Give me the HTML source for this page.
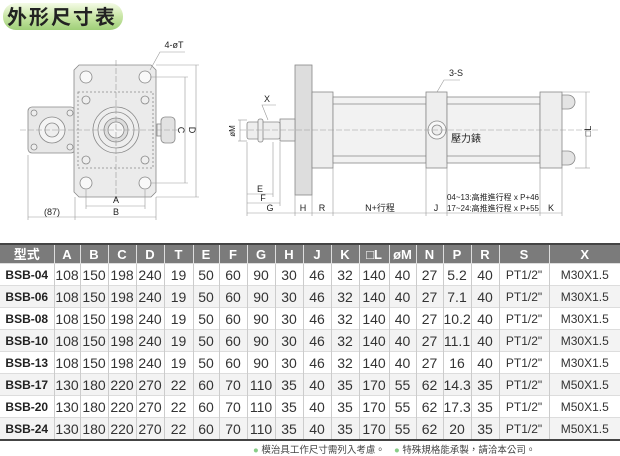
<!DOCTYPE html>
<html><head><meta charset="utf-8"><style>
body{margin:0;width:620px;height:453px;background:#fff;position:relative;overflow:hidden;font-family:"Liberation Sans","Noto Sans CJK TC",sans-serif;}
svg{position:absolute;left:0;top:0}
table{position:absolute;left:0;top:243px;border-collapse:collapse;table-layout:fixed;width:620px;border-top:2px solid #444;border-bottom:2px solid #444}
td,th{padding:0;text-align:center;white-space:nowrap;overflow:hidden;line-height:1}
th{background:#7b7b7b;color:#fff;font-size:13px;font-weight:bold;height:18px;border-left:1px solid #ddd}
td{height:21px;font-size:14px;color:#333;border-left:1px solid #ccc;border-top:1px solid #ddd}
td:first-child,th:first-child{border-left:none}
td:first-child{font-weight:bold;font-size:12px;color:#222}
tr.g td{background:#f3f3f3}
.s{font-size:12px}
.note{position:absolute;top:442px;font-size:9.5px;color:#444;white-space:nowrap}
.note b{color:#8c8;font-weight:normal}
</style></head><body>
<svg width="620" height="243" viewBox="0 0 620 243" font-family="Liberation Sans, Noto Sans CJK TC, sans-serif">
<defs><linearGradient id="gr" x1="0" y1="0" x2="0" y2="1"><stop offset="0" stop-color="#f4fbe6"/><stop offset="0.5" stop-color="#c9e6a6"/><stop offset="1" stop-color="#9fcf78"/></linearGradient></defs>
<rect x="3" y="3" width="120" height="27" rx="13" fill="url(#gr)"/>
<text x="62" y="24" text-anchor="middle" font-size="20" font-weight="bold" fill="#222" letter-spacing="2">外形尺寸表</text>
<g stroke="#888" stroke-width="0.8" fill="#eee">
<rect x="28" y="107" width="47" height="46" rx="4" fill="#e8e8e8"/>
<circle cx="52" cy="130" r="13" fill="#f4f4f4"/><circle cx="52" cy="130" r="7"/>
<circle cx="34" cy="113" r="3"/><circle cx="70" cy="113" r="3"/><circle cx="34" cy="147" r="3"/><circle cx="70" cy="147" r="3"/>
<path d="M79 65 H151 L156 70 V192 L151 197 H79 L74 192 V70 Z" fill="#ebebeb"/>
<rect x="78" y="92" width="75" height="76" fill="none" stroke-dasharray="2,2"/>
<circle cx="86" cy="77" r="6" fill="#f8f8f8"/><circle cx="145" cy="77" r="6" fill="#f8f8f8"/>
<circle cx="86" cy="183" r="6" fill="#f8f8f8"/><circle cx="145" cy="183" r="6" fill="#f8f8f8"/>
<circle cx="86" cy="100" r="4"/><circle cx="145" cy="100" r="4"/><circle cx="86" cy="160" r="4"/><circle cx="145" cy="160" r="4"/>
<circle cx="116" cy="130" r="23"/><circle cx="116" cy="130" r="18"/><circle cx="116" cy="130" r="12" fill="#ddd"/><circle cx="116" cy="130" r="8" fill="#f4f4f4"/>
<rect x="157" y="124" width="5" height="12"/><rect x="161" y="117" width="14" height="26" rx="4" fill="#e2e2e2"/>
<rect x="295" y="65" width="17" height="130" fill="#ddd"/>
<rect x="312" y="92" width="21" height="76"/>
<rect x="333" y="97" width="93" height="66" fill="#f2f2f2"/>
<line x1="333" y1="104" x2="426" y2="104"/><line x1="333" y1="156" x2="426" y2="156"/>
<rect x="426" y="92" width="21" height="76"/>
<rect x="447" y="97" width="93" height="66" fill="#f2f2f2"/>
<line x1="447" y1="104" x2="540" y2="104"/><line x1="447" y1="156" x2="540" y2="156"/>
<rect x="540" y="92" width="22" height="76"/>
<path d="M562 95 h6 a7 7 0 0 1 0 14 h-6 Z" fill="#e4e4e4"/><path d="M562 151 h6 a7 7 0 0 1 0 14 h-6 Z" fill="#e4e4e4"/>
<rect x="280" y="119" width="15" height="22"/>
<rect x="247" y="122" width="33" height="17" rx="2"/>
<rect x="258" y="119" width="5" height="23" rx="2"/>
<circle cx="437" cy="130" r="9" fill="#f8f8f8"/><circle cx="437" cy="130" r="5"/>
</g>
<g stroke="#999" stroke-width="0.6" fill="none">
<line x1="116" y1="60" x2="116" y2="200" stroke-dasharray="6,2"/><line x1="20" y1="130" x2="180" y2="130" stroke-dasharray="6,2"/>
<line x1="240" y1="130" x2="600" y2="130" stroke-dasharray="6,2"/>
<line x1="86" y1="206" x2="145" y2="206"/><line x1="75" y1="217" x2="156" y2="217"/><line x1="28" y1="217" x2="75" y2="217"/>
<line x1="185" y1="77" x2="185" y2="183"/><line x1="196" y1="65" x2="196" y2="197"/>
<line x1="150" y1="77" x2="188" y2="77"/><line x1="150" y1="183" x2="188" y2="183"/><line x1="156" y1="65" x2="199" y2="65"/><line x1="156" y1="197" x2="199" y2="197"/>
<line x1="86" y1="190" x2="86" y2="209"/><line x1="145" y1="190" x2="145" y2="209"/><line x1="28" y1="155" x2="28" y2="220"/><line x1="75" y1="197" x2="75" y2="220"/><line x1="156" y1="197" x2="156" y2="220"/>
<polyline points="150,70 160,52 185,52"/>
<line x1="247" y1="194" x2="273" y2="194"/><line x1="247" y1="203" x2="280" y2="203"/><line x1="247" y1="213" x2="562" y2="213"/>
<line x1="247" y1="142" x2="247" y2="216"/><line x1="273" y1="142" x2="273" y2="197"/><line x1="280" y1="142" x2="280" y2="206"/>
<line x1="295" y1="195" x2="295" y2="216"/><line x1="312" y1="195" x2="312" y2="216"/><line x1="333" y1="168" x2="333" y2="216"/><line x1="426" y1="168" x2="426" y2="216"/><line x1="447" y1="168" x2="447" y2="216"/><line x1="540" y1="168" x2="540" y2="216"/><line x1="562" y1="168" x2="562" y2="216"/>
<line x1="238" y1="120" x2="247" y2="120"/><line x1="238" y1="141" x2="247" y2="141"/><line x1="240" y1="120" x2="240" y2="141"/>
<line x1="586" y1="92" x2="586" y2="168"/><line x1="562" y1="92" x2="590" y2="92"/><line x1="575" y1="168" x2="590" y2="168"/>
<polyline points="268,120 262,105 276,105"/><polyline points="437,92 444,80 460,80"/>
</g>
<g font-size="9" fill="#222" text-anchor="middle">
<text x="174" y="48">4-øT</text><text x="116" y="203">A</text><text x="116" y="215">B</text><text x="52" y="215">(87)</text>
<text x="181" y="133" transform="rotate(90 181 130)">C</text><text x="192" y="133" transform="rotate(90 192 130)">D</text>
<text x="267" y="102">X</text><text x="456" y="76">3-S</text>
<text x="235" y="131" transform="rotate(-90 235 131)" font-size="8">øM</text>
<text x="591" y="131" transform="rotate(-90 591 131)">□L</text>
<text x="260" y="192">E</text><text x="263" y="201">F</text><text x="270" y="211">G</text><text x="303" y="211">H</text><text x="322" y="211">R</text><text x="380" y="211">N+行程</text><text x="436" y="211">J</text><text x="551" y="211">K</text>
<text x="466" y="142" font-size="10">壓力錶</text>
<text x="493" y="200" font-size="8">04~13:高推進行程 x P+46</text><text x="493" y="211" font-size="8">17~24:高推進行程 x P+55</text>
</g>
</svg>
<table>
<colgroup><col style="width:54px"><col style="width:26px"><col style="width:28px"><col style="width:28px"><col style="width:28px"><col style="width:29px"><col style="width:26px"><col style="width:28px"><col style="width:28px"><col style="width:28px"><col style="width:28px"><col style="width:28px"><col style="width:30px"><col style="width:27px"><col style="width:27px"><col style="width:28px"><col style="width:28px"><col style="width:50px"><col style="width:71px"></colgroup>
<tr><th>型式</th><th>A</th><th>B</th><th>C</th><th>D</th><th>T</th><th>E</th><th>F</th><th>G</th><th>H</th><th>J</th><th>K</th><th>□L</th><th>øM</th><th>N</th><th>P</th><th>R</th><th>S</th><th>X</th></tr>
<tr><td>BSB-04</td><td>108</td><td>150</td><td>198</td><td>240</td><td>19</td><td>50</td><td>60</td><td>90</td><td>30</td><td>46</td><td>32</td><td>140</td><td>40</td><td>27</td><td>5.2</td><td>40</td><td class="s">PT1/2"</td><td class="s">M30X1.5</td></tr>
<tr class="g"><td>BSB-06</td><td>108</td><td>150</td><td>198</td><td>240</td><td>19</td><td>50</td><td>60</td><td>90</td><td>30</td><td>46</td><td>32</td><td>140</td><td>40</td><td>27</td><td>7.1</td><td>40</td><td class="s">PT1/2"</td><td class="s">M30X1.5</td></tr>
<tr><td>BSB-08</td><td>108</td><td>150</td><td>198</td><td>240</td><td>19</td><td>50</td><td>60</td><td>90</td><td>30</td><td>46</td><td>32</td><td>140</td><td>40</td><td>27</td><td>10.2</td><td>40</td><td class="s">PT1/2"</td><td class="s">M30X1.5</td></tr>
<tr class="g"><td>BSB-10</td><td>108</td><td>150</td><td>198</td><td>240</td><td>19</td><td>50</td><td>60</td><td>90</td><td>30</td><td>46</td><td>32</td><td>140</td><td>40</td><td>27</td><td>11.1</td><td>40</td><td class="s">PT1/2"</td><td class="s">M30X1.5</td></tr>
<tr><td>BSB-13</td><td>108</td><td>150</td><td>198</td><td>240</td><td>19</td><td>50</td><td>60</td><td>90</td><td>30</td><td>46</td><td>32</td><td>140</td><td>40</td><td>27</td><td>16</td><td>40</td><td class="s">PT1/2"</td><td class="s">M30X1.5</td></tr>
<tr class="g"><td>BSB-17</td><td>130</td><td>180</td><td>220</td><td>270</td><td>22</td><td>60</td><td>70</td><td>110</td><td>35</td><td>40</td><td>35</td><td>170</td><td>55</td><td>62</td><td>14.3</td><td>35</td><td class="s">PT1/2"</td><td class="s">M50X1.5</td></tr>
<tr><td>BSB-20</td><td>130</td><td>180</td><td>220</td><td>270</td><td>22</td><td>60</td><td>70</td><td>110</td><td>35</td><td>40</td><td>35</td><td>170</td><td>55</td><td>62</td><td>17.3</td><td>35</td><td class="s">PT1/2"</td><td class="s">M50X1.5</td></tr>
<tr class="g"><td>BSB-24</td><td>130</td><td>180</td><td>220</td><td>270</td><td>22</td><td>60</td><td>70</td><td>110</td><td>35</td><td>40</td><td>35</td><td>170</td><td>55</td><td>62</td><td>20</td><td>35</td><td class="s">PT1/2"</td><td class="s">M50X1.5</td></tr>
</table>
<div class="note" style="left:253px"><b>●</b> 模治具工作尺寸需列入考慮。</div>
<div class="note" style="left:394px"><b>●</b> 特殊規格能承製，請洽本公司。</div>
</body></html>
